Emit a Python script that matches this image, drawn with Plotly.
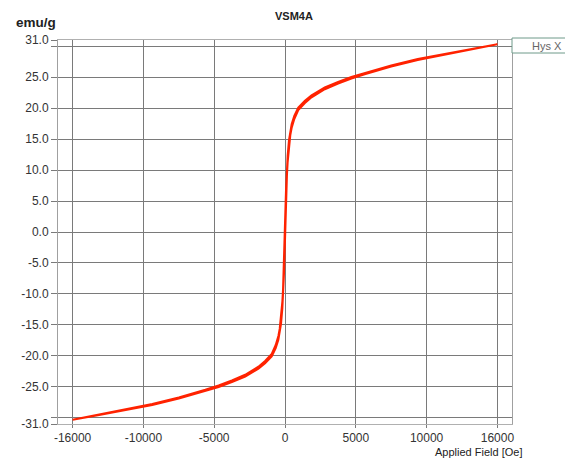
import plotly.graph_objects as go

# Descending branch (field swept from +16000 Oe to -16000 Oe)
H_desc = [16000, 14000, 12000, 10000, 8000, 6000, 5000, 4000, 3000, 2000, 1500, 1000,
          700, 500, 400, 300, 200, 150, 100, 75, 50, 25, 0, -25, -50, -75, -100, -150,
          -200, -300, -400, -500, -700, -1000, -1500, -2000, -3000, -4000, -5000, -6000,
          -8000, -10000, -12000, -14000, -16000]
M_desc = [30.3, 29.53, 28.75, 27.93, 26.9, 25.72, 25.02, 24.25, 23.35, 22.05, 21.18, 20.1,
          18.75, 17.4, 16.35, 14.85, 12.35, 10.65, 8.3, 6.75, 5.0, 2.85, 0.85, -1.15, -3.4, -5.25,
          -6.9, -9.35, -11.25, -13.95, -15.65, -16.8, -18.25, -19.7, -20.82, -21.75, -23.05,
          -23.95, -24.78, -25.48, -26.7, -27.77, -28.65, -29.47, -30.3]

# Ascending branch (field swept from -16000 Oe to +16000 Oe)
H_asc = [-16000, -14000, -12000, -10000, -8000, -6000, -5000, -4000, -3000, -2000, -1500, -1000,
         -700, -500, -400, -300, -200, -150, -100, -75, -50, -25, 0, 25, 50, 75, 100, 150,
         200, 300, 400, 500, 700, 1000, 1500, 2000, 3000, 4000, 5000, 6000,
         8000, 10000, 12000, 14000, 16000]
M_asc = [-30.3, -29.53, -28.75, -27.93, -26.9, -25.72, -25.02, -24.25, -23.35, -22.05, -21.18, -20.1,
         -18.75, -17.4, -16.35, -14.85, -12.35, -10.65, -8.3, -6.75, -5.0, -2.85, -0.85, 1.15, 3.4, 5.25,
         6.9, 9.35, 11.25, 13.95, 15.65, 16.8, 18.25, 19.7, 20.82, 21.75, 23.05,
         23.95, 24.78, 25.48, 26.7, 27.77, 28.65, 29.47, 30.3]

# Axis ticks (x grid divides the span in six; labels as printed on the chart)
x_tickvals = [-16000, -32000 / 3, -16000 / 3, 0, 16000 / 3, 32000 / 3, 16000]
x_ticktext = ["-16000", "-10000", "-5000", "0", "5000", "10000", "16000"]
y_tickvals = [-31, -30, -25, -20, -15, -10, -5, 0, 5, 10, 15, 20, 25, 30, 31]
y_ticktext = ["-31.0", "", "-25.0", "-20.0", "-15.0", "-10.0", "-5.0", "0.0",
              "5.0", "10.0", "15.0", "20.0", "25.0", "", "31.0"]

FONT = "Liberation Sans, Arial, sans-serif"
RED = "#ff2200"

fig = go.Figure()
fig.add_trace(go.Scatter(x=H_desc + H_asc, y=M_desc + M_asc, mode="lines",
                         line=dict(color=RED, width=2), showlegend=False,
                         hoverinfo="skip"))

W, H = 565, 459
L, R, T, B = 58, 53, 40, 35
pw, ph = W - L - R, H - T - B


def px(xp):
    return (xp - L) / pw


def py(yp):
    return (H - B - yp) / ph


fig.update_layout(
    width=W, height=H,
    margin=dict(l=L, r=R, t=T, b=B),
    paper_bgcolor="white", plot_bgcolor="white",
    font=dict(family=FONT, size=12, color="#333333"),
    showlegend=False,
    xaxis=dict(range=[-17100, 17100], tickvals=x_tickvals, ticktext=x_ticktext,
               showgrid=True, gridcolor="#7a7a7a", gridwidth=1, zeroline=False,
               showline=True, linecolor="#b0b0b0", linewidth=1, mirror=True,
               ticks="outside", ticklen=3, tickcolor="#7a7a7a",
               tickfont=dict(size=12, color="#333333")),
    yaxis=dict(range=[-31, 31], tickvals=y_tickvals, ticktext=y_ticktext,
               showgrid=True, gridcolor="#7a7a7a", gridwidth=1, zeroline=False,
               showline=True, linecolor="#a0a0a0", linewidth=1, mirror=True,
               ticks="outside", ticklen=6, tickcolor="#7a7a7a",
               tickfont=dict(size=12, color="#333333")),
    shapes=[
        dict(type="rect", xref="paper", yref="paper", x0=px(512), x1=px(568),
             y0=py(53), y1=py(38), line=dict(color="#6f9a8a", width=1),
             fillcolor="white", layer="above"),
    ],
    annotations=[
        dict(text="<b>VSM4A</b>", xref="paper", yref="paper", x=px(294), y=py(16),
             xanchor="center", yanchor="middle", showarrow=False,
             font=dict(size=11, color="#222222", family=FONT)),
        dict(text="<b>emu/g</b>", xref="paper", yref="paper", x=px(36), y=py(22.5),
             xanchor="center", yanchor="middle", showarrow=False,
             font=dict(size=13.5, color="#222222", family=FONT)),
        dict(text="Applied Field [Oe]", xref="paper", yref="paper", x=px(478), y=py(452),
             xanchor="center", yanchor="middle", showarrow=False,
             font=dict(size=11, color="#222222", family=FONT)),
        dict(text="Hys X", xref="paper", yref="paper", x=px(564), y=py(46),
             xanchor="right", yanchor="middle", showarrow=False,
             font=dict(size=11, color="#666666", family=FONT)),
    ],
)

fig.write_html("out.html", config={"displayModeBar": False},
               post_script="document.body.style.margin='0';document.body.style.overflow='hidden';")
